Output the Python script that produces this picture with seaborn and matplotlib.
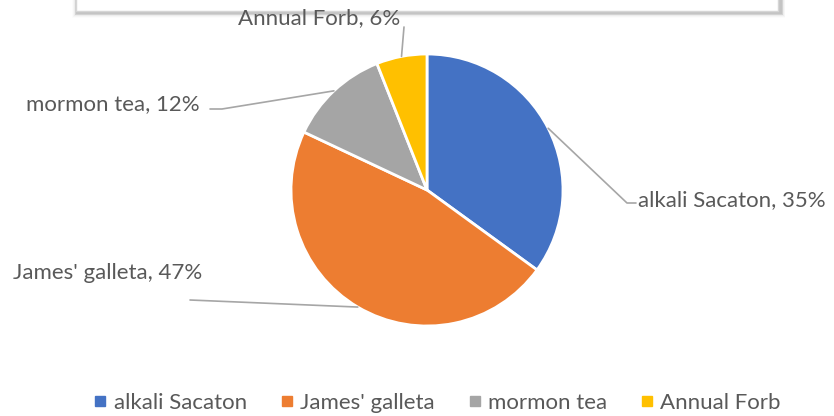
import numpy as np
import matplotlib
matplotlib.use("Agg")
import matplotlib.pyplot as plt
import seaborn as sns
from matplotlib.patches import Rectangle
from matplotlib.lines import Line2D

categories = ["alkali Sacaton", "James' galleta", "mormon tea", "Annual Forb"]
values = [35, 47, 12, 6]
colors = ["#4472C4", "#ED7D31", "#A5A5A5", "#FFC000"]

sns.set_theme(style="white")
plt.rcParams['font.family'] = ['Lato', 'DejaVu Sans']

W, H = 834, 416
fig = plt.figure(figsize=(W / 100, H / 100), dpi=100)
ax = fig.add_axes([0, 0, 1, 1])

def Y(yp):
    return H - yp

# top box with soft shadow (partial, cut off by the top edge)
for i, a in enumerate(np.linspace(0.07, 0.01, 6)):
    d = 1 + i * 0.7
    ax.add_patch(Rectangle((75 + 2 - d, Y(13 + d)), 704 + 2 * d, 40, facecolor='black',
                           alpha=a, edgecolor='none', zorder=0))
ax.add_patch(Rectangle((76, Y(11)), 702, 40, facecolor='white', edgecolor='#D6D6D6',
                       linewidth=1.0, zorder=1))

cx, cy, r = 427, Y(190), 136
wedges, _ = ax.pie(values, colors=colors, startangle=90, counterclock=False,
                   center=(cx, cy), radius=r, frame=True,
                   wedgeprops=dict(edgecolor='white', linewidth=2))
ax.set_xlim(0, W)
ax.set_ylim(0, H)
ax.set_aspect('equal')
ax.axis('off')

text_color = '#595959'
line_color = '#A6A6A6'
fs = 16

total = sum(values)
cum = np.cumsum([0] + values)
mids = [90 - 360 * (cum[i] + values[i] / 2) / total for i in range(len(values))]
anchors = [(cx + r * np.cos(np.radians(m)), cy + r * np.sin(np.radians(m))) for m in mids]

layout = [
    dict(tx=638, ty=200, ha='left', path=[(636, 203), (627, 203)]),
    dict(tx=13, ty=273, ha='left', path=[(190, 300)]),
    dict(tx=200, ty=104, ha='right', path=[(210, 109), (222, 109)]),
    dict(tx=400, ty=18, ha='right', path=[(404, 27)]),
]
for i, cat in enumerate(categories):
    L = layout[i]
    ax.text(L['tx'], Y(L['ty']), f"{cat}, {values[i]}%", ha=L['ha'], va='center',
            fontsize=fs, color=text_color)
    pts = [(x, Y(y)) for x, y in L['path']] + [anchors[i]]
    xs, ys = zip(*pts)
    ax.plot(xs, ys, color=line_color, linewidth=1.2, zorder=5)

handles = [Line2D([0], [0], marker='s', linestyle='none', markersize=6.5,
                  markerfacecolor=c, markeredgecolor=c) for c in colors]
leg = fig.legend(handles, categories, loc='center', bbox_to_anchor=(435 / W, 1 - 403 / H),
                 ncol=4, frameon=False, fontsize=fs, handletextpad=0.1,
                 columnspacing=1.3, handlelength=1.0)
for t in leg.get_texts():
    t.set_color(text_color)

fig.savefig("out.png", dpi=100)
